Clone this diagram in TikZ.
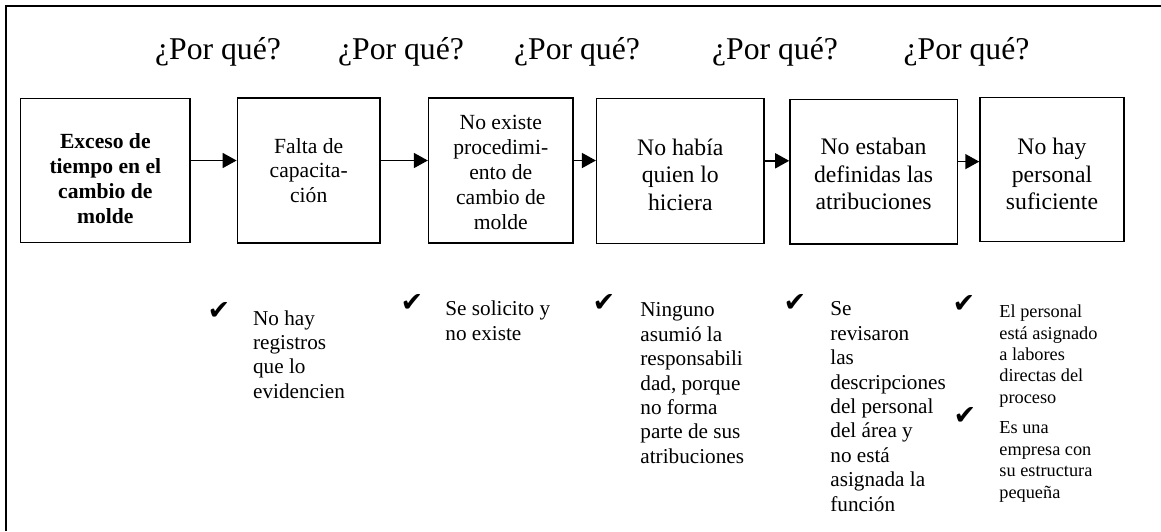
\documentclass[tikz,border=0pt]{standalone}
\usepackage{fontspec}
\setmainfont{Liberation Serif}
\newfontfamily\symfont{DejaVu Sans}
\usepackage{tikz}
\usetikzlibrary{
  % bigger arrow tips
  arrows.meta,%
  calc
}
\tikzset{>={Triangle[length=7pt,width=7.5pt]}}
\tikzset{x=0.5pt, y=-0.5pt}
\tikzset{whybox/.style={draw, line width=0.75pt, align=center, inner sep=0pt,
    font=\fontsize{10.8}{12.4}\selectfont}}
\tikzset{bigbox/.style={whybox, font=\fontsize{11.85}{13.75}\selectfont}}
\tikzset{why/.style={anchor=base, inner sep=0pt, font=\fontsize{15.85}{19}\selectfont}}
\tikzset{checkmark/.style={inner sep=0pt, font=\symfont\fontsize{13.5}{14}\selectfont}}
\tikzset{note/.style={anchor=north west, align=left, inner sep=0pt,
    font=\fontsize{10.6}{12.2}\selectfont}}
\tikzset{smallnote/.style={note, font=\fontsize{9.15}{10.7}\selectfont}}

\begin{document}
\begin{tikzpicture}
          \useasboundingbox (0,0) rectangle (1161,531);
          \draw[line width=1pt] (5.5,531) -- (5.5,5.5) -- (1161,5.5);
          \foreach \x [count=\i] in {218, 401, 577, 775, 966.5}
            \node[why] (w\i) at (\x,59.5) {¿Por qué?};
          \node[whybox, minimum width=84.65pt, minimum height=72.2pt,
            font=\fontsize{10.8}{12.4}\selectfont\bfseries] (b1) at (105.3,170.5)
            {\rule{0pt}{15.4pt}Exceso de\\tiempo en el\\cambio de\\molde};
          \node[whybox, minimum width=71.35pt, minimum height=72.5pt] (b2) at (308.7,170.5)
            {Falta de\\capacita-\\ción};
          \node[whybox, minimum width=72.2pt, minimum height=72.5pt] (b3) at (500.8,170.5)
            {\rule{0pt}{9pt}No existe\\procedimi-\\ento de\\cambio de\\molde};
          \node[bigbox, minimum width=83.65pt, minimum height=72.5pt] (b4) at (680.3,170.8)
            {\rule{0pt}{12pt}No había\\quien lo\\hiciera};
          \node[bigbox, minimum width=83.65pt, minimum height=72.35pt] (b5) at (873.6,171.6)
            {\rule{0pt}{11pt}No estaban\\definidas las\\atribuciones};
          \node[bigbox, minimum width=72pt, minimum height=72.2pt] (b6) at (1052,169.5)
            {\rule{0pt}{13pt}No hay\\personal\\suficiente};
          \foreach \a/\b in {b1/b2, b2/b3, b3/b4, b4/b5, b5/b6}
            \draw[->, line width=0.8pt] ([yshift=5pt]\a.east) -- ([yshift=5pt]\a.east -| \b.west);
          \node[checkmark] (c1) at (219,311) {✔};
          \node[checkmark] (c2) at (412,303) {✔};
          \node[checkmark] (c3) at (604,303) {✔};
          \node[checkmark] (c4) at (795,303) {✔};
          \node[checkmark] (c5) at (964,304) {✔};
          \node[checkmark] (c6) at (965,416) {✔};
          \node[note] (n1) at (252.7,310) {No hay\\registros\\que lo\\evidencien};
          \node[note] (n2) at (445,300.5) {Se solicito y\\no existe};
          \node[note] (n3) at (640,302.5) {Ninguno\\asumió la\\responsabili\\dad, porque\\no forma\\parte de sus\\atribuciones};
          \node[note] (n4) at (830,301.5) {Se\\revisaron\\las\\descripciones\\del personal\\del área y\\no está\\asignada la\\función};
          \node[smallnote] (n5) at (999,304.5) {El personal\\está asignado\\a labores\\directas del\\proceso};
          \node[smallnote] (n6) at (999,421.5) {Es una\\empresa con\\su estructura\\pequeña};
        \end{tikzpicture}
\end{document}
